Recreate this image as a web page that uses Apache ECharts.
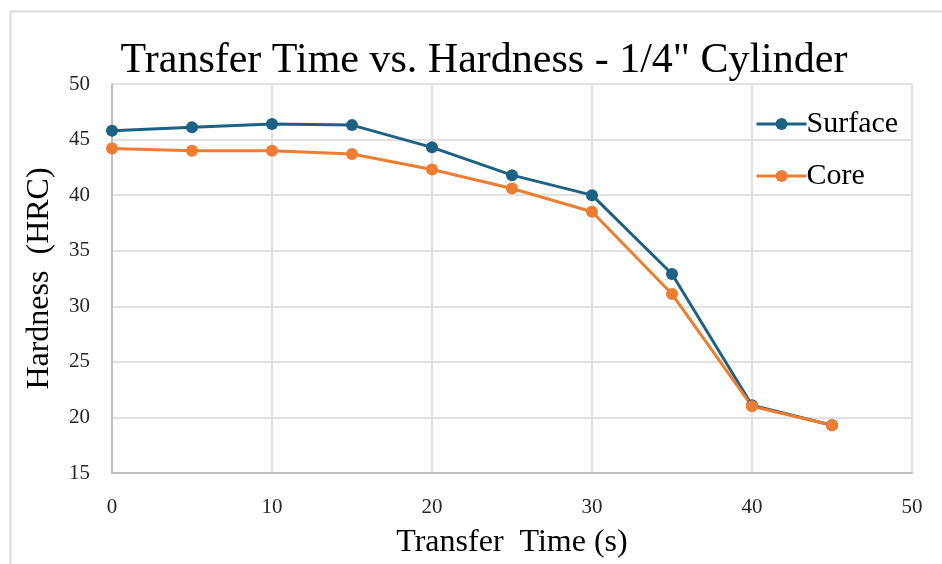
<!DOCTYPE html>
<html>
<head>
<meta charset="utf-8">
<script src="https://cdn.jsdelivr.net/npm/echarts@6/dist/echarts.min.js"></script>
<style>html,body{margin:0;padding:0;background:#fff;}#c{width:942px;height:564px;}</style>
</head>
<body>
<div id="c"></div>
<script>
var times = [0, 5, 10, 15, 20, 25, 30, 35, 40, 45];
var surface = [45.8, 46.1, 46.4, 46.3, 44.3, 41.8, 40.0, 32.9, 21.1, 19.3];
var core = [44.2, 44.0, 44.0, 43.7, 42.3, 40.6, 38.5, 31.1, 21.0, 19.3];
var seriesNames = ['Surface', 'Core'];
var titleText = 'Transfer Time vs. Hardness - 1/4" Cylinder';

var font = '"Liberation Serif", "Times New Roman", serif';
function pairs(v) { return times.map(function (t, i) { return [t, v[i]]; }); }

var chart = echarts.init(document.getElementById('c'), null, { renderer: 'canvas' });
chart.setOption({
  animation: false,
  backgroundColor: '#fff',
  textStyle: { fontFamily: font },
  graphic: [{
    type: 'rect', shape: { x: 10.5, y: 11.5, width: 1000, height: 1000 },
    style: { fill: 'none', stroke: '#d9d9d9', lineWidth: 2 }, silent: true
  }],
  title: {
    text: titleText, left: 479, textAlign: 'center', top: 35,
    textStyle: { fontFamily: font, fontSize: 42, fontWeight: 'normal', color: '#000' }
  },
  legend: {
    orient: 'vertical', left: 750, top: 104, itemWidth: 50, itemHeight: 15, itemGap: 22,
    lineStyle: { width: 3 },
    textStyle: { fontFamily: font, fontSize: 30, color: '#000', padding: [0, 0, 0, -5] },
    data: seriesNames
  },
  grid: { left: 112, right: 30, top: 84, bottom: 86, show: false },
  xAxis: {
    type: 'value', min: 0, max: 50, interval: 10,
    name: 'Transfer  Time (s)', nameLocation: 'middle', nameGap: 54,
    nameTextStyle: { fontFamily: font, fontSize: 32, color: '#000' },
    axisLine: { lineStyle: { color: '#bfbfbf', width: 2 } },
    axisTick: { show: false },
    axisLabel: { fontFamily: font, fontSize: 21, color: '#262626', margin: 24 },
    splitLine: { show: true, lineStyle: { color: '#d9d9d9', width: 1.5 } }
  },
  yAxis: {
    type: 'value', min: 15, max: 50, interval: 5,
    name: 'Hardness  (HRC)', nameLocation: 'middle', nameGap: 56, nameRotate: 90,
    nameTextStyle: { fontFamily: font, fontSize: 32, color: '#000' },
    axisLine: { show: true, lineStyle: { color: '#bfbfbf', width: 2 } },
    axisTick: { show: false },
    axisLabel: { fontFamily: font, fontSize: 21, color: '#262626', margin: 22 },
    splitLine: { show: true, lineStyle: { color: '#d9d9d9', width: 1.5 } }
  },
  series: [
    {
      name: seriesNames[0], type: 'line', data: pairs(surface),
      symbol: 'circle', symbolSize: 12,
      lineStyle: { color: '#1d6185', width: 3 }, itemStyle: { color: '#1d6185' }
    },
    {
      name: seriesNames[1], type: 'line', data: pairs(core),
      symbol: 'circle', symbolSize: 12,
      lineStyle: { color: '#ed7d31', width: 3 }, itemStyle: { color: '#ed7d31' }
    }
  ]
});
</script>
</body>
</html>
